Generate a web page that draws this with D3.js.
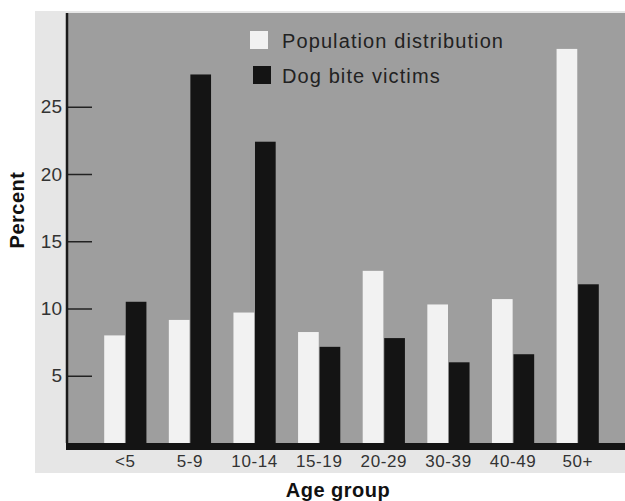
<!DOCTYPE html>
<html>
<head>
<meta charset="utf-8">
<script src="https://cdn.jsdelivr.net/npm/d3@7"></script>
<style>
  body { margin: 0; background: #fff; }
  svg { display: block; font-family: "Liberation Sans", Arial, sans-serif; }
</style>
</head>
<body>
<div class="chart"></div>
<script>
const ageGroups = ["<5", "5-9", "10-14", "15-19", "20-29", "30-39", "40-49", "50+"];
const population = [8.0, 9.15, 9.7, 8.25, 12.8, 10.3, 10.7, 29.3];
const biteVictims = [10.5, 27.4, 22.4, 7.15, 7.8, 6.0, 6.6, 11.8];
const seriesNames = ["Population distribution", "Dog bite victims"];
const yTicks = [5, 10, 15, 20, 25];

const w = 625;
const h = 501;

// plot frame
const plotLeft = 67;
const plotTop = 13;
const plotBottom = 443;
const plotRight = 625;

const svg = d3
  .select(".chart")
  .append("svg")
  .attr("width", w)
  .attr("height", h);

// paper + grey plot panel
svg.append("rect")
  .attr("x", 35).attr("y", 11)
  .attr("width", w - 35).attr("height", 462)
  .attr("fill", "#e6e6e6");

svg.append("rect")
  .attr("x", plotLeft).attr("y", plotTop)
  .attr("width", plotRight - plotLeft).attr("height", plotBottom - plotTop)
  .attr("fill", "#9e9e9e");

const yScale = d3.scaleLinear().domain([0, 32]).range([plotBottom, plotBottom - 32 * 13.45]);

const xScale = d3
  .scaleBand()
  .domain(ageGroups)
  .range([93, 610])
  .paddingInner(0.32)
  .paddingOuter(0.16);

const inner = d3
  .scaleBand()
  .domain(seriesNames)
  .range([0, xScale.bandwidth()])
  .padding(0.04);

const colour = d3.scaleOrdinal().domain(seriesNames).range(["#f2f2f2", "#141414"]);

const rows = ageGroups.map((g, i) => ({
  group: g,
  values: [
    { key: seriesNames[0], value: population[i] },
    { key: seriesNames[1], value: biteVictims[i] }
  ]
}));

// bars
svg.append("g")
  .selectAll("g")
  .data(rows)
  .enter()
  .append("g")
  .attr("transform", (d) => `translate(${xScale(d.group)},0)`)
  .selectAll("rect")
  .data((d) => d.values)
  .enter()
  .append("rect")
  .attr("x", (d) => inner(d.key))
  .attr("y", (d) => yScale(d.value))
  .attr("width", inner.bandwidth())
  .attr("height", (d) => plotBottom - yScale(d.value))
  .attr("fill", (d) => colour(d.key));

// y axis: ticks point inward, labels outside
const yAxis = d3.axisLeft(yScale).tickValues(yTicks).tickSize(-25).tickPadding(5);
const yG = svg.append("g")
  .attr("transform", `translate(${plotLeft},0)`)
  .call(yAxis);
yG.select(".domain").remove();
yG.selectAll(".tick line").attr("stroke", "#222").attr("stroke-width", 1.5);
yG.selectAll(".tick text")
  .attr("font-size", 19)
  .attr("fill", "#333")
  .attr("font-family", "Liberation Sans, Arial, sans-serif");

svg.append("line")
  .attr("x1", plotLeft).attr("x2", plotLeft)
  .attr("y1", plotTop).attr("y2", plotBottom)
  .attr("stroke", "#1a1a1a")
  .attr("stroke-width", 2.5);

// thick baseline
svg.append("rect")
  .attr("x", plotLeft - 1).attr("y", plotBottom)
  .attr("width", plotRight - plotLeft + 1).attr("height", 7)
  .attr("fill", "#141414");

// x axis labels
const xAxis = d3.axisBottom(xScale).tickSize(0).tickPadding(10);
const xG = svg.append("g")
  .attr("transform", `translate(0,${plotBottom + 2})`)
  .call(xAxis);
xG.select(".domain").remove();
xG.selectAll(".tick text")
  .attr("font-size", 17)
  .attr("letter-spacing", 0.6)
  .attr("fill", "#333")
  .attr("font-family", "Liberation Sans, Arial, sans-serif");

// axis titles
svg.append("text")
  .attr("x", 338).attr("y", 497)
  .attr("text-anchor", "middle")
  .attr("font-size", 20)
  .attr("font-weight", "bold")
  .attr("letter-spacing", 0.5)
  .attr("fill", "#111")
  .text("Age group");

svg.append("text")
  .attr("transform", "translate(24,210) rotate(-90)")
  .attr("text-anchor", "middle")
  .attr("font-size", 20)
  .attr("font-weight", "bold")
  .attr("letter-spacing", 0.5)
  .attr("fill", "#111")
  .text("Percent");

// legend
const legend = svg.append("g").attr("transform", "translate(250,31)");
const items = legend.selectAll("g")
  .data(seriesNames)
  .enter()
  .append("g")
  .attr("transform", (d, i) => `translate(${i * 3},${i * 35})`);
items.append("rect")
  .attr("width", 18).attr("height", 18)
  .attr("fill", (d) => colour(d));
items.append("text")
  .attr("x", (d, i) => 32 - i * 3)
  .attr("y", 17)
  .attr("font-size", 20)
  .attr("letter-spacing", 1.1)
  .attr("fill", "#222")
  .text((d) => d);
</script>
</body>
</html>
